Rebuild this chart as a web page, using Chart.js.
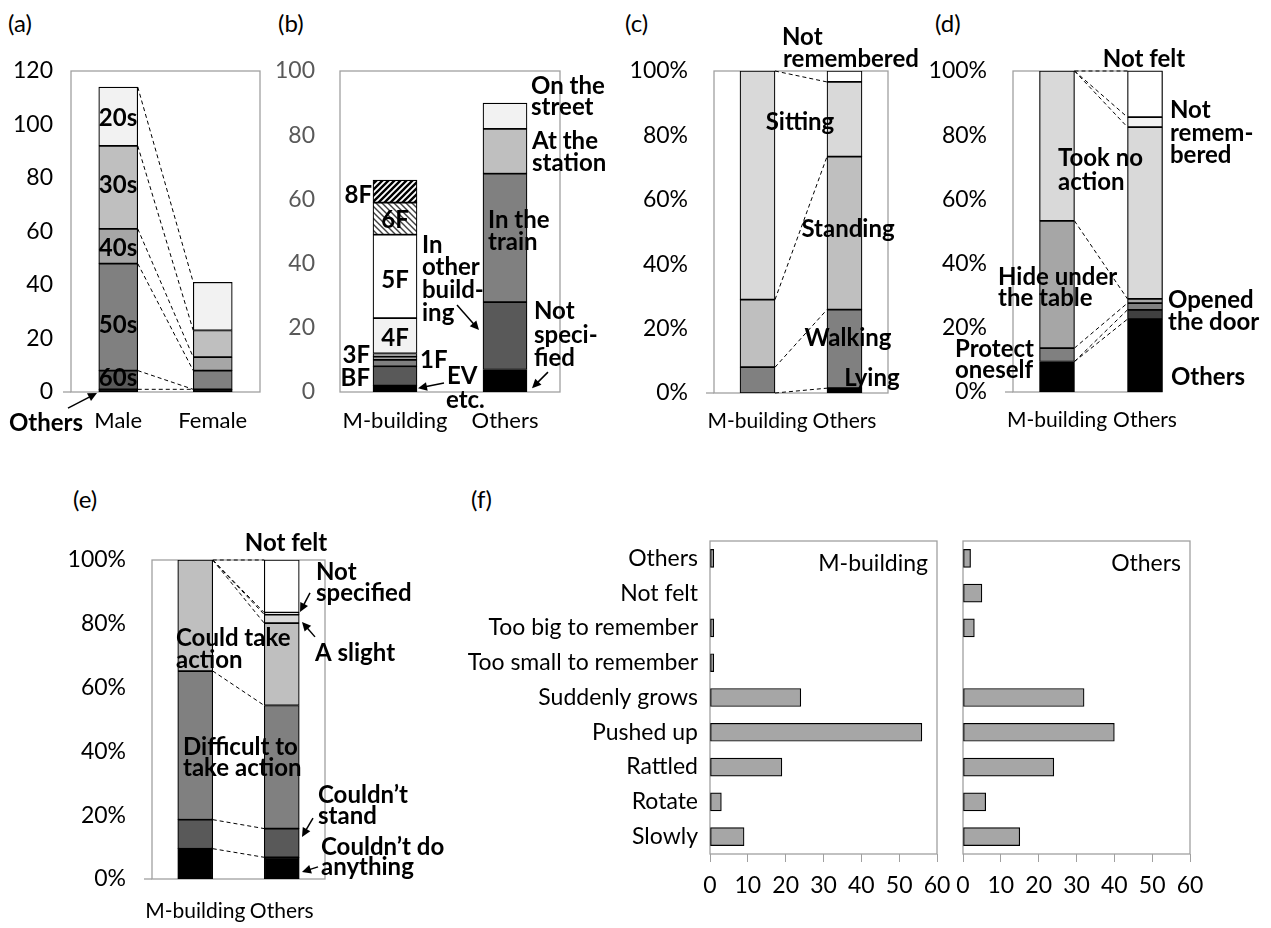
<!DOCTYPE html>
<html>
<head>
<meta charset="utf-8">
<script src="https://cdn.jsdelivr.net/npm/chart.js@4.4.0/dist/chart.umd.min.js"></script>
<style>
  body { margin: 0; background: #fff; width: 1271px; height: 928px; position: relative; overflow: hidden; }
  .tag { position: absolute; font: 24px Lato, sans-serif; line-height: 1; color: #000; }
  canvas { position: absolute; }
</style>
</head>
<body>
<div class="tag" style="left:8px;top:11px">(a)</div>
<div class="tag" style="left:278px;top:11px">(b)</div>
<div class="tag" style="left:625px;top:11px">(c)</div>
<div class="tag" style="left:935px;top:11px">(d)</div>
<div class="tag" style="left:73px;top:487px">(e)</div>
<div class="tag" style="left:471px;top:487px">(f)</div>

<script>
/* ---- data ---- */
// (a) respondents by gender and age
const genderLabels = ['Male', 'Female'];
const ageGroups = ['Others', '60s', '50s', '40s', '30s', '20s'];
const ageMale = [1, 7, 40, 13, 31, 22];
const ageFemale = [1, 0, 7, 5, 10, 18];

// (b) where people were
const placeLabels = ['M-building', 'Others'];
const floorNames = ['EV etc.', 'BF', '1F', '2F', '3F', '4F', '5F', '6F', '8F'];
const floorCounts = [2, 6, 2, 1, 1, 11, 26, 10, 7];
const outsideNames = ['Not specified', 'In other building', 'In the train', 'At the station', 'On the street'];
const outsideCounts = [7, 21, 40, 14, 8];

// (c) posture (%)
const postureNames = ['Lying', 'Walking', 'Standing', 'Sitting', 'Not remembered'];
const postureM = [0, 8, 21, 71, 0];
const postureO = [1.5, 24.4, 47.5, 23.2, 3.4];

// (d) action taken (%)
const actionNames = ['Others', 'Opened the door', 'Protect oneself', 'Hide under the table', 'Took no action', 'Not remembered', 'Not felt'];
const actionM = [9.5, 0, 4.2, 39.6, 46.7, 0, 0];
const actionO = [22.7, 2.9, 2.1, 1.3, 53.5, 3.1, 14.4];

// (e) ability to move (%)
const moveNames = ['Couldn\u2019t do anything', 'Couldn\u2019t stand', 'Difficult to take action', 'Could take action', 'A slight', 'Not specified', 'Not felt'];
const moveM = [9.5, 9.1, 46.6, 34.8, 0, 0, 0];
const moveO = [6.8, 9.0, 38.6, 25.8, 2.7, 0.6, 16.5];

// (f) how the shaking felt (counts)
const feelNames = ['Others', 'Not felt', 'Too big to remember', 'Too small to remember', 'Suddenly grows', 'Pushed up', 'Rattled', 'Rotate', 'Slowly'];
const feelM = [1, 0, 1, 1, 24, 56, 19, 3, 9];
const feelO = [2, 5, 3, 0, 32, 40, 24, 6, 15];

/* ---- plugins ---- */
const GREY = '#a0a0a0';
const FONT = 'Lato';

// grey plot-area box, like the spreadsheet charts
const frame = {
  id: 'frame',
  beforeDatasetsDraw(chart, args, o) {
    const a = chart.chartArea, ctx = chart.ctx;
    const right = a.right - (o.insetRight || 0);
    ctx.save();
    ctx.strokeStyle = GREY;
    ctx.lineWidth = 1.3;
    ctx.strokeRect(a.left, a.top, right - a.left, a.bottom - a.top);
    if (o.zeroTick) {
      ctx.beginPath();
      ctx.moveTo(a.left - o.zeroTick, a.bottom);
      ctx.lineTo(a.left, a.bottom);
      ctx.stroke();
    }
    ctx.restore();
  }
};

// dashed lines joining segment boundaries of the two stacked bars
const links = {
  id: 'links',
  afterDatasetsDraw(chart, args, o) {
    if (!o.upto) return;
    const xs = chart.scales.x, ys = chart.scales.y, ctx = chart.ctx;
    const x0 = xs.getPixelForValue(0) + o.bar / 2;
    const x1 = xs.getPixelForValue(1) - o.bar / 2;
    let c0 = 0, c1 = 0;
    ctx.save();
    ctx.setLineDash([4, 3]);
    ctx.strokeStyle = '#000';
    ctx.lineWidth = 1;
    chart.data.datasets.slice(0, o.upto).forEach(ds => {
      c0 += ds.data[0] || 0;
      c1 += ds.data[1] || 0;
      ctx.beginPath();
      ctx.moveTo(x0, ys.getPixelForValue(c0));
      ctx.lineTo(x1, ys.getPixelForValue(c1));
      ctx.stroke();
    });
    ctx.restore();
  }
};

// bold call-out labels and arrows
const notes = {
  id: 'notes',
  afterDraw(chart, args, o) {
    if (!o.items) return;
    const a = chart.chartArea, ys = chart.scales.y, ctx = chart.ctx;
    const yOf = n => n.v !== undefined ? ys.getPixelForValue(n.v) : a.top + n.dy;
    ctx.save();
    ctx.fillStyle = '#000';
    ctx.strokeStyle = '#000';
    ctx.textBaseline = 'middle';
    ctx.font = o.font || `bold 24px ${FONT}`;
    o.items.forEach(n => {
      ctx.textAlign = n.align || 'left';
      ctx.fillText(n.t, a.left + n.dx, yOf(n));
    });
    (o.arrows || []).forEach(([dx1, v1, dx2, v2]) => {
      const x1 = a.left + dx1, y1 = ys.getPixelForValue(v1);
      const x2 = a.left + dx2, y2 = ys.getPixelForValue(v2);
      const ang = Math.atan2(y2 - y1, x2 - x1);
      ctx.lineWidth = 1.5;
      ctx.beginPath();
      ctx.moveTo(x1, y1);
      ctx.lineTo(x2 - 6 * Math.cos(ang), y2 - 6 * Math.sin(ang));
      ctx.stroke();
      ctx.beginPath();
      ctx.moveTo(x2, y2);
      ctx.lineTo(x2 - 10 * Math.cos(ang - 0.45), y2 - 10 * Math.sin(ang - 0.45));
      ctx.lineTo(x2 - 10 * Math.cos(ang + 0.45), y2 - 10 * Math.sin(ang + 0.45));
      ctx.closePath();
      ctx.fill();
    });
    ctx.restore();
  }
};

Chart.register(frame, links, notes);
Chart.defaults.font.family = FONT;

/* ---- helpers ---- */
function makeCanvas(box) {
  const c = document.createElement('canvas');
  c.width = box.r - box.l + box.yW + box.padR;
  c.height = box.b - box.t + box.padT + box.xH;
  c.style.left = (box.l - box.yW) + 'px';
  c.style.top = (box.t - box.padT) + 'px';
  document.body.appendChild(c);
  return c;
}

function hatch(color, dir, lw) {
  const p = document.createElement('canvas');
  p.width = p.height = 6;
  const g = p.getContext('2d');
  g.fillStyle = '#fff';
  g.fillRect(0, 0, 6, 6);
  g.strokeStyle = color;
  g.lineWidth = lw;
  g.beginPath();
  if (dir > 0) {
    g.moveTo(-1, 7); g.lineTo(7, -1);
    g.moveTo(-1, 1); g.lineTo(1, -1);
    g.moveTo(5, 7); g.lineTo(7, 5);
  } else {
    g.moveTo(-1, -1); g.lineTo(7, 7);
    g.moveTo(-1, 5); g.lineTo(1, 7);
    g.moveTo(5, -1); g.lineTo(7, 1);
  }
  g.stroke();
  return g.createPattern(p, 'repeat');
}

function seg(label, data, color) {
  return { label, data, backgroundColor: color, borderColor: '#000', borderWidth: 1.2, borderSkipped: false };
}

// two stacked columns joined by dashed lines
function stackedPanel(box, labels, datasets, cfg) {
  return new Chart(makeCanvas(box), {
    type: 'bar',
    data: { labels, datasets },
    options: {
      responsive: false,
      animation: false,
      devicePixelRatio: 1,
      layout: { padding: { top: box.padT, right: box.padR, left: 0, bottom: 0 } },
      datasets: { bar: { barThickness: cfg.bar } },
      plugins: {
        legend: { display: false },
        tooltip: { enabled: false },
        frame: { insetRight: cfg.insetRight || 0, zeroTick: cfg.zeroTick || 0 },
        links: { upto: cfg.links || 0, bar: cfg.bar },
        notes: { items: cfg.notes, arrows: cfg.arrows }
      },
      scales: {
        x: {
          stacked: true,
          grid: { display: false, drawTicks: false },
          border: { display: false },
          ticks: { font: { size: cfg.catSize || 22 }, color: '#000', padding: cfg.xPad, maxRotation: 0, minRotation: 0, autoSkip: false },
          afterFit: s => { s.height = box.xH; }
        },
        y: {
          stacked: true,
          min: 0,
          max: cfg.max,
          grid: { display: false, drawTicks: false },
          border: { display: false },
          ticks: { stepSize: 20, font: { size: 23 }, color: cfg.tickColor || '#000', padding: cfg.yPad,
                   callback: v => cfg.pct ? v + '%' : v },
          afterFit: s => { s.width = box.yW; }
        }
      }
    }
  });
}

// horizontal bars for (f)
function feelPanel(box, values, showLabels, title) {
  return new Chart(makeCanvas(box), {
    type: 'bar',
    data: {
      labels: feelNames,
      datasets: [{ data: values, backgroundColor: '#a6a6a6', borderColor: '#000', borderWidth: 1.2, borderSkipped: false, barThickness: 18 }]
    },
    options: {
      indexAxis: 'y',
      responsive: false,
      animation: false,
      devicePixelRatio: 1,
      layout: { padding: { top: box.padT, right: box.padR, left: 0, bottom: 0 } },
      plugins: {
        legend: { display: false },
        tooltip: { enabled: false },
        notes: { font: `23px ${FONT}`, items: [{ t: title, dx: box.r - box.l - 9, dy: 23, align: 'right' }] }
      },
      scales: {
        x: {
          min: 0, max: 60,
          grid: { display: true, drawOnChartArea: false, color: GREY, tickLength: 8 },
          border: { display: false },
          ticks: { stepSize: 10, font: { size: 23 }, color: '#000', padding: 10 },
          afterFit: s => { s.height = box.xH; }
        },
        y: {
          grid: { display: false, drawTicks: false },
          border: { display: false },
          ticks: { display: showLabels, font: { size: 23 }, color: '#000', padding: 12, autoSkip: false },
          afterFit: s => { s.width = box.yW; }
        }
      }
    }
  });
}

/* ---- (a) ---- */
const ageColors = ['#000000', '#595959', '#808080', '#a6a6a6', '#bfbfbf', '#f2f2f2'];
stackedPanel(
  { l: 71, t: 71, r: 260, b: 392, yW: 71, padT: 50, padR: 12, xH: 50 },
  genderLabels,
  ageGroups.map((g, i) => seg(g, [ageMale[i], ageFemale[i]], ageColors[i])),
  {
    bar: 39, max: 120, yPad: 18, xPad: 16, links: 6, zeroTick: 8,
    notes: [
      { t: '20s', dx: 47, v: 102.4, align: 'center' },
      { t: '30s', dx: 47, v: 77.4, align: 'center' },
      { t: '40s', dx: 47, v: 53.8, align: 'center' },
      { t: '50s', dx: 47, v: 25, align: 'center' },
      { t: '60s', dx: 47, v: 5.2, align: 'center' },
      { t: 'Others', dx: 12, v: -11.6, align: 'right' }
    ],
    arrows: [[-3, -6, 26, -0.4]]
  }
);

/* ---- (b) ---- */
const floorColors = ['#000000', '#595959', '#808080', '#a6a6a6', '#bfbfbf', '#f2f2f2', '#ffffff',
                     hatch('#404040', -1, 1.4), hatch('#000000', 1, 2.4)];
const outsideColors = ['#000000', '#595959', '#808080', '#bfbfbf', '#f2f2f2'];
stackedPanel(
  { l: 340, t: 71, r: 560, b: 392, yW: 80, padT: 50, padR: 55, xH: 50 },
  placeLabels,
  floorNames.map((f, i) => seg(f, [floorCounts[i], null], floorColors[i]))
    .concat(outsideNames.map((o, i) => seg(o, [null, outsideCounts[i]], outsideColors[i]))),
  {
    bar: 44, max: 100, yPad: 25, xPad: 16, tickColor: '#595959',
    notes: [
      { t: '8F', dx: 32, v: 61.4, align: 'right' },
      { t: '6F', dx: 55, v: 53.6, align: 'center' },
      { t: '5F', dx: 55, v: 34.9, align: 'center' },
      { t: '4F', dx: 55, v: 16.8, align: 'center' },
      { t: '3F', dx: 30, v: 11.5, align: 'right' },
      { t: 'BF', dx: 30, v: 4.3, align: 'right' },
      { t: '1F', dx: 80, v: 10 },
      { t: 'EV', dx: 107, v: 4.8 },
      { t: 'etc.', dx: 106, v: -2.5 },
      { t: 'In', dx: 82, v: 45.8 },
      { t: 'other', dx: 82, v: 39 },
      { t: 'build-', dx: 82, v: 31.8 },
      { t: 'ing', dx: 82, v: 24.6 },
      { t: 'In the', dx: 148, v: 53.6 },
      { t: 'train', dx: 148, v: 46.8 },
      { t: 'On the', dx: 191, v: 95.3 },
      { t: 'street', dx: 191, v: 88.8 },
      { t: 'At the', dx: 192, v: 78.2 },
      { t: 'station', dx: 192, v: 71.3 },
      { t: 'Not', dx: 194, v: 25 },
      { t: 'speci-', dx: 194, v: 17.8 },
      { t: 'fied', dx: 194, v: 10.6 }
    ],
    arrows: [[104, 2.8, 78, 1.2], [117, 27.1, 139, 19.3], [208, 6.2, 192, 1.2]]
  }
);

/* ---- (c) ---- */
const postureColors = ['#000000', '#808080', '#bfbfbf', '#d9d9d9', '#ffffff'];
stackedPanel(
  { l: 714, t: 71, r: 888, b: 393, yW: 90, padT: 60, padR: 45, xH: 50 },
  placeLabels,
  postureNames.map((p, i) => seg(p, [postureM[i], postureO[i]], postureColors[i])),
  {
    bar: 35, max: 100, pct: true, yPad: 26, xPad: 16, links: 4, zeroTick: 8, catSize: 21,
    notes: [
      { t: 'Not', dx: 68, v: 110.6 },
      { t: 'remembered', dx: 69, v: 103.7 },
      { t: 'Sitting', dx: 86, v: 84.2, align: 'center' },
      { t: 'Standing', dx: 134, v: 50.9, align: 'center' },
      { t: 'Walking', dx: 134, v: 17, align: 'center' },
      { t: 'Lying', dx: 158, v: 4.6, align: 'center' }
    ]
  }
);

/* ---- (d) ---- */
const actionColors = ['#000000', '#404040', '#808080', '#a6a6a6', '#d9d9d9', '#f2f2f2', '#ffffff'];
stackedPanel(
  { l: 1013, t: 71, r: 1189, b: 392, yW: 90, padT: 60, padR: 80, xH: 50 },
  placeLabels,
  actionNames.map((a, i) => seg(a, [actionM[i], actionO[i]], actionColors[i])),
  {
    bar: 35, max: 100, pct: true, yPad: 26, xPad: 16, links: 7, zeroTick: 8, insetRight: 27, catSize: 21,
    notes: [
      { t: 'Not felt', dx: 131, v: 103.7, align: 'center' },
      { t: 'Not', dx: 157, v: 87.8 },
      { t: 'remem-', dx: 157, v: 80.7 },
      { t: 'bered', dx: 157, v: 73.8 },
      { t: 'Took no', dx: 45, v: 72.9 },
      { t: 'action', dx: 45, v: 65.4 },
      { t: 'Hide under', dx: -15, v: 35.8 },
      { t: 'the table', dx: -15, v: 29.3 },
      { t: 'Protect', dx: -58, v: 13.4 },
      { t: 'oneself', dx: -58, v: 6.9 },
      { t: 'Opened', dx: 155, v: 28.7 },
      { t: 'the door', dx: 155, v: 21.8 },
      { t: 'Others', dx: 158, v: 4.7 }
    ]
  }
);

/* ---- (e) ---- */
const moveColors = ['#000000', '#595959', '#808080', '#bfbfbf', '#d9d9d9', '#f2f2f2', '#ffffff'];
stackedPanel(
  { l: 152, t: 560, r: 325, b: 879, yW: 100, padT: 45, padR: 130, xH: 50 },
  placeLabels,
  moveNames.map((m, i) => seg(m, [moveM[i], moveO[i]], moveColors[i])),
  {
    bar: 35, max: 100, pct: true, yPad: 26, xPad: 20, links: 7, zeroTick: 8, catSize: 21,
    notes: [
      { t: 'Not felt', dx: 134, v: 105.3, align: 'center' },
      { t: 'Not', dx: 164, v: 96.2 },
      { t: 'specified', dx: 164, v: 89.7 },
      { t: 'A slight', dx: 163, v: 70.8 },
      { t: 'Could take', dx: 24, v: 75.5 },
      { t: 'action', dx: 24, v: 68.7 },
      { t: 'Difficult to', dx: 31, v: 41.4 },
      { t: 'take action', dx: 31, v: 34.8 },
      { t: 'Couldn\u2019t', dx: 166, v: 26.3 },
      { t: 'stand', dx: 166, v: 19.7 },
      { t: 'Couldn\u2019t do', dx: 169, v: 10 },
      { t: 'anything', dx: 169, v: 3.8 }
    ],
    arrows: [[158, 89.7, 148, 83.7], [163, 75.9, 150, 80.6], [161, 19.1, 150, 13.2], [166, 3.8, 150, 2.2]]
  }
);

/* ---- (f) ---- */
feelPanel({ l: 710, t: 541, r: 937, b: 854, yW: 262, padT: 35, padR: 30, xH: 50 }, feelM, true, 'M-building');
feelPanel({ l: 963, t: 541, r: 1190, b: 854, yW: 20, padT: 35, padR: 30, xH: 50 }, feelO, false, 'Others');
</script>
</body>
</html>
